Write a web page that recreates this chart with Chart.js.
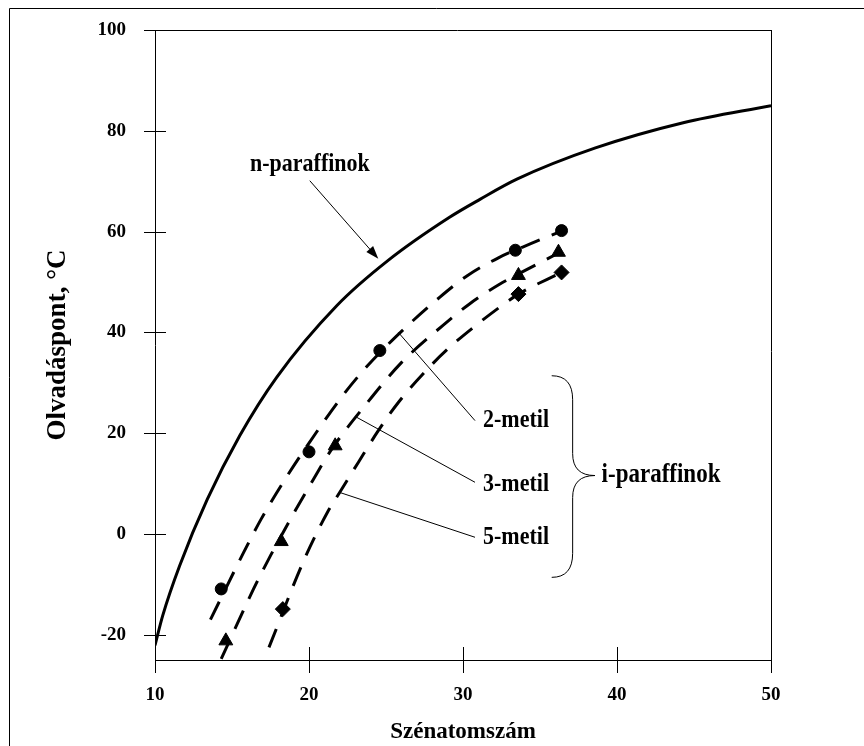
<!DOCTYPE html>
<html>
<head>
<meta charset="utf-8">
<script src="https://cdn.jsdelivr.net/npm/chart.js@4.4.0/dist/chart.umd.min.js"></script>
<style>
  html, body { margin: 0; padding: 0; background: #fff; }
  #wrap { width: 864px; height: 746px; }
</style>
</head>
<body>
<div id="wrap"><canvas id="chart" width="864" height="746"></canvas></div>
<script>
// ---------- Data ----------
const xTicks = [10, 20, 30, 40, 50];
const yTicks = [-20, 0, 20, 40, 60, 80, 100];

// n-paraffin curve
const nParX = [10, 10.5, 11.6, 13.4, 15.5, 17.9, 21.8, 25.1, 29.1, 31.1, 33.5, 38.6, 44.3, 50];
const nParY = [-22.1, -16.2, -6.3, 6.9, 19.5, 31.1, 45.3, 54.2, 62.8, 66.4, 70.4, 76.6, 81.6, 85];

// fitted dashed curves
const m2X = [13.6, 15.7, 16.9, 18.6, 19.9, 22.1, 23.6, 25.8, 28.5, 30.3, 32.3, 34.4, 36.4];
const m2Y = [-17, -4, 3, 11.6, 17.6, 27.1, 32.7, 39.6, 47.0, 51.3, 54.8, 57.6, 60.1];
const m3X = [14.3, 16.4, 17.5, 19.1, 20.3, 21.4, 23.8, 26.0, 28.7, 30.4, 32.4, 33.6, 36.3];
const m3Y = [-24.8, -10.9, -4.3, 4.6, 10.9, 16.5, 26.1, 34.0, 41.4, 45.6, 49.6, 51.6, 55.9];
const m5X = [17.4, 19.7, 21.2, 22.0, 23.2, 24.5, 25.8, 28.0, 29.0, 30.8, 32.6, 33.6, 36.4];
const m5Y = [-22.5, -5.0, 4.3, 8.3, 14.2, 20.5, 26.1, 33.7, 36.7, 41.3, 45.5, 47.6, 51.9];

// measured points
const c2X = [14.3, 20.0, 24.6, 33.4, 36.4];
const c2Y = [-10.9, 16.3, 36.4, 56.3, 60.2];
const t3X = [14.6, 18.2, 21.7, 33.6, 36.2];
const t3Y = [-21.2, -1.5, 17.5, 51.3, 55.9];
const d5X = [18.3, 33.6, 36.4];
const d5Y = [-14.9, 47.6, 51.9];

const FONT = '"Liberation Serif", "Times New Roman", serif';

function pts(xs, ys) {
  return xs.map((x, i) => ({ x: x, y: ys[i] }));
}

function curve(xs, ys, dashed) {
  return {
    data: pts(xs, ys),
    showLine: true,
    borderColor: '#000',
    borderWidth: 3,
    borderDash: dashed ? [20, 13] : [],
    cubicInterpolationMode: 'monotone',
    pointRadius: 0,
    fill: false
  };
}

function markers(xs, ys, style, r) {
  return {
    data: pts(xs, ys),
    showLine: false,
    pointStyle: style,
    pointRadius: r,
    pointBackgroundColor: '#000',
    pointBorderColor: '#000',
    pointBorderWidth: 1
  };
}

// scale paddings from tick labels would push the plot area around
function noPad(s) {
  s.paddingTop = 0; s.paddingBottom = 0; s.paddingLeft = 0; s.paddingRight = 0;
}

// text in the original is a bit taller than normal Times
function tallText(ctx, text, x, y) {
  ctx.save();
  ctx.translate(x, y);
  ctx.scale(1, 1.15);
  ctx.fillText(text, 0, 0);
  ctx.restore();
}

// ---------- Frame, crossing ticks, annotations ----------
const decor = {
  id: 'decor',
  afterDraw(chart) {
    const ctx = chart.ctx;
    const xs = chart.scales.x, ys = chart.scales.y;
    const area = chart.chartArea;
    const P = (x, y) => [xs.getPixelForValue(x), ys.getPixelForValue(y)];
    const r = v => Math.round(v) + 0.5;

    ctx.save();
    ctx.strokeStyle = '#000';
    ctx.lineWidth = 1;

    // outer frame (left + top)
    ctx.beginPath();
    ctx.moveTo(9.5, 746); ctx.lineTo(9.5, 8.5); ctx.lineTo(864, 8.5);
    ctx.stroke();

    // y ticks crossing the axis, top line at 100
    yTicks.forEach(v => {
      const py = r(ys.getPixelForValue(v));
      ctx.beginPath();
      ctx.moveTo(area.left - 11, py);
      ctx.lineTo(v === 100 ? area.right : area.left + 11, py);
      ctx.stroke();
    });
    // x ticks crossing the axis, right line at 50
    xTicks.forEach(v => {
      const px = r(xs.getPixelForValue(v));
      ctx.beginPath();
      ctx.moveTo(px, v === 50 ? area.top : area.bottom - 13);
      ctx.lineTo(px, area.bottom + 13);
      ctx.stroke();
    });

    // annotation texts
    ctx.fillStyle = '#000';
    ctx.font = 'bold 22px ' + FONT;
    ctx.textBaseline = 'middle';
    ctx.textAlign = 'center';
    let p = P(20.06, 73.4);
    tallText(ctx, 'n-paraffinok', p[0], p[1]);

    ctx.textAlign = 'left';
    [['2-metil', 22.5], ['3-metil', 9.9], ['5-metil', -0.65]].forEach(t => {
      const q = P(31.3, t[1]);
      tallText(ctx, t[0], q[0], q[1]);
    });
    ctx.font = 'bold 23px ' + FONT;
    p = P(39.0, 11.6);
    tallText(ctx, 'i-paraffinok', p[0], p[1]);

    // leader lines
    const leaders = [[25.8, 40.0, 30.78, 22.5], [23.1, 23.15, 30.78, 10.26], [21.97, 8.27, 30.78, -0.65]];
    leaders.forEach(l => {
      const a = P(l[0], l[1]), b = P(l[2], l[3]);
      ctx.beginPath(); ctx.moveTo(a[0], a[1]); ctx.lineTo(b[0], b[1]); ctx.stroke();
    });

    // arrow to n-paraffin curve
    const a0 = P(20.05, 70.1), a1 = P(24.5, 54.6);
    const ang = Math.atan2(a1[1] - a0[1], a1[0] - a0[0]);
    ctx.beginPath(); ctx.moveTo(a0[0], a0[1]);
    ctx.lineTo(a1[0] - 10 * Math.cos(ang), a1[1] - 10 * Math.sin(ang)); ctx.stroke();
    ctx.beginPath();
    ctx.moveTo(a1[0], a1[1]);
    ctx.lineTo(a1[0] - 13 * Math.cos(ang) + 4.5 * Math.sin(ang), a1[1] - 13 * Math.sin(ang) - 4.5 * Math.cos(ang));
    ctx.lineTo(a1[0] - 13 * Math.cos(ang) - 4.5 * Math.sin(ang), a1[1] - 13 * Math.sin(ang) + 4.5 * Math.cos(ang));
    ctx.closePath(); ctx.fill();

    // curly brace
    const top = P(35.76, 31.4), tip = P(38.57, 11.6), bot = P(35.76, -8.6);
    const sx = xs.getPixelForValue(37.12);
    ctx.beginPath();
    ctx.moveTo(top[0], top[1]);
    ctx.quadraticCurveTo(sx, top[1], sx, top[1] + 24);
    ctx.lineTo(sx, tip[1] - 22);
    ctx.quadraticCurveTo(sx, tip[1], tip[0], tip[1]);
    ctx.quadraticCurveTo(sx, tip[1], sx, tip[1] + 22);
    ctx.lineTo(sx, bot[1] - 24);
    ctx.quadraticCurveTo(sx, bot[1], bot[0], bot[1]);
    ctx.stroke();

    ctx.restore();
  }
};

// ---------- Chart ----------
new Chart(document.getElementById('chart'), {
  type: 'scatter',
  data: {
    datasets: [
      curve(nParX, nParY, false),
      curve(m2X, m2Y, true),
      curve(m3X, m3Y, true),
      curve(m5X, m5Y, true),
      markers(c2X, c2Y, 'circle', 6),
      markers(t3X, t3Y, 'triangle', 8),
      markers(d5X, d5Y, 'rectRot', 7.5)
    ]
  },
  options: {
    responsive: false,
    animation: false,
    devicePixelRatio: 1,
    layout: { padding: { top: 30, right: 93, left: 0, bottom: 0 } },
    plugins: { legend: { display: false }, tooltip: { enabled: false } },
    scales: {
      x: {
        type: 'linear',
        min: 10,
        max: 50,
        afterBuildTicks: s => { s.ticks = xTicks.map(v => ({ value: v })); },
        afterFit: s => { s.height = 86; noPad(s); },
        grid: { display: false, drawTicks: false },
        border: { display: true, color: '#000', width: 1 },
        ticks: { color: '#000', padding: 24, maxRotation: 0, font: { family: FONT, size: 19, weight: 'bold' } },
        title: {
          display: true,
          text: 'Szénatomszám',
          color: '#000',
          padding: { top: 0, bottom: 0 },
          font: { family: FONT, size: 23, weight: 'bold' }
        }
      },
      y: {
        type: 'linear',
        min: -25,
        max: 100,
        afterBuildTicks: s => { s.ticks = yTicks.map(v => ({ value: v })); },
        afterFit: s => { s.width = 155; noPad(s); },
        grid: { display: false, drawTicks: false },
        border: { display: true, color: '#000', width: 1 },
        ticks: { color: '#000', padding: 29, font: { family: FONT, size: 19, weight: 'bold' } },
        title: {
          display: true,
          text: 'Olvadáspont, °C',
          color: '#000',
          padding: { top: 42, bottom: 0 },
          font: { family: FONT, size: 27, weight: 'bold' }
        }
      }
    }
  },
  plugins: [decor]
});
</script>
</body>
</html>
